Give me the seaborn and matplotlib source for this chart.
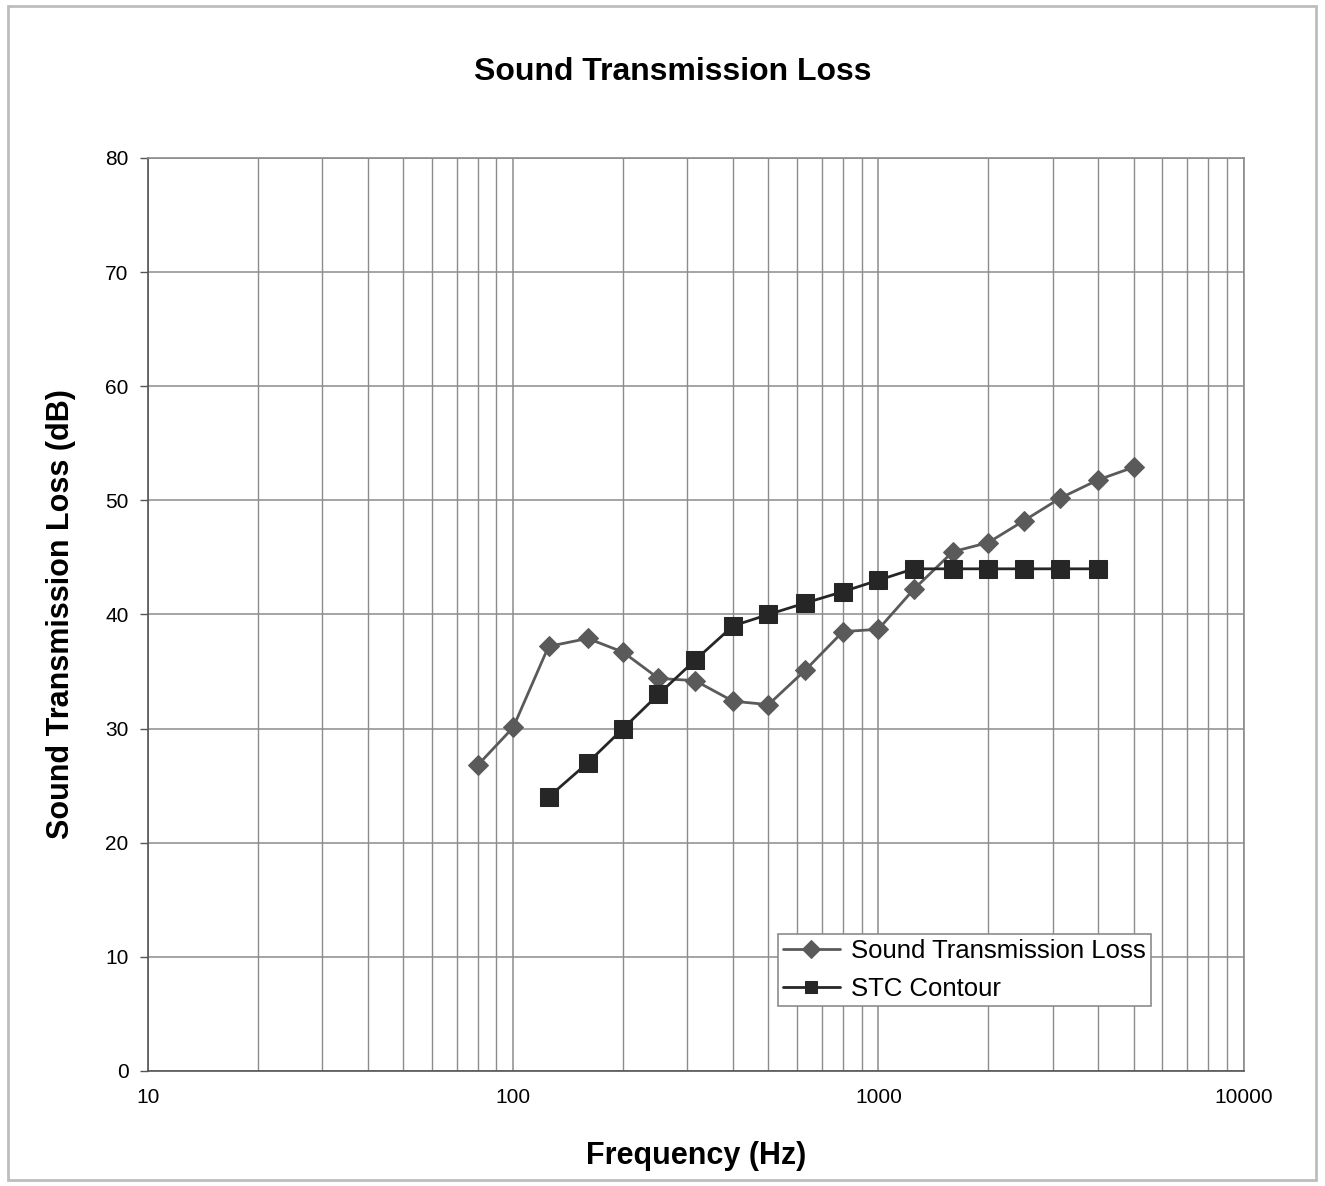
import numpy as np
import pandas as pd
import matplotlib
matplotlib.use("Agg")
import matplotlib.pyplot as plt
import seaborn as sns
from matplotlib.patches import Rectangle
from matplotlib.ticker import LogLocator, FixedLocator, NullFormatter

# Third-octave band frequencies and measured values
stl_freq = [80, 100, 125, 160, 200, 250, 315, 400, 500, 630, 800, 1000,
            1250, 1600, 2000, 2500, 3150, 4000, 5000]
stl_db = [26.8, 30.1, 37.2, 37.9, 36.7, 34.4, 34.2, 32.4, 32.1, 35.1, 38.5, 38.7,
          42.2, 45.5, 46.3, 48.2, 50.2, 51.8, 52.9]

stc_freq = [125, 160, 200, 250, 315, 400, 500, 630, 800, 1000, 1250, 1600,
            2000, 2500, 3150, 4000]
stc_db = [24, 27, 30, 33, 36, 39, 40, 41, 42, 43, 44, 44, 44, 44, 44, 44]

x_ticks = [10, 100, 1000, 10000]
y_ticks = [0, 10, 20, 30, 40, 50, 60, 70, 80]

sns.set_theme(style="white")
plt.rcParams["font.family"] = ["Liberation Sans", "DejaVu Sans"]
plt.rcParams["text.color"] = "black"
plt.rcParams["axes.labelcolor"] = "black"
plt.rcParams["xtick.color"] = "black"
plt.rcParams["ytick.color"] = "black"

fig = plt.figure(figsize=(13.25, 11.86), dpi=100)
ax = fig.add_axes([0.1117, 0.097, 0.8268, 0.7698])

stl = pd.DataFrame({"Frequency": stl_freq, "dB": stl_db})
stc = pd.DataFrame({"Frequency": stc_freq, "dB": stc_db})

sns.lineplot(data=stl, x="Frequency", y="dB", ax=ax, color="#5a5a5a",
             marker="D", markersize=10, markeredgecolor="#5a5a5a",
             linewidth=2, label="Sound Transmission Loss")
sns.lineplot(data=stc, x="Frequency", y="dB", ax=ax, color="#262626",
             marker="s", markersize=13, markeredgecolor="#262626",
             linewidth=2, label="STC Contour")

ax.set_xscale("log")
ax.set_xlim(10, 10000)
ax.set_ylim(0, 80)
ax.xaxis.set_major_locator(FixedLocator(x_ticks))
ax.xaxis.set_minor_locator(LogLocator(base=10, subs=np.arange(2, 10)))
ax.xaxis.set_minor_formatter(NullFormatter())
ax.set_xticks(x_ticks)
ax.set_xticklabels([str(t) for t in x_ticks])
ax.set_yticks(y_ticks)

ax.grid(True, which="major", axis="both", color="#8c8c8c", linewidth=1.1)
ax.grid(True, which="minor", axis="x", color="#8c8c8c", linewidth=1.0)

for s in ax.spines.values():
    s.set_color("#8c8c8c")
    s.set_linewidth(1.2)
ax.spines["left"].set_color("#555555")
ax.spines["bottom"].set_color("#555555")

ax.tick_params(axis="y", which="major", direction="out", length=6, width=1,
               color="#555555", pad=8, labelsize=15, left=True)
ax.tick_params(axis="x", which="major", direction="out", length=0, pad=12,
               labelsize=15, bottom=True)
ax.tick_params(axis="x", which="minor", length=0)

fig.text(673 / 1325, 1 - 72 / 1186, "Sound Transmission Loss", fontsize=23,
         fontweight="bold", ha="center", va="center")
ax.set_xlabel("Frequency (Hz)", fontsize=22, fontweight="bold", labelpad=25)
ax.set_ylabel("Sound Transmission Loss (dB)", fontsize=22, fontweight="bold",
              labelpad=21)

leg = ax.legend(loc="lower left", bbox_to_anchor=(0.575, 0.071), fontsize=18.5,
                frameon=True, fancybox=False, edgecolor="#8c8c8c",
                framealpha=1, borderpad=0.2, handlelength=2.2,
                handletextpad=0.45, labelspacing=0.55, borderaxespad=0)
leg.get_frame().set_linewidth(1.2)
for h in leg.legend_handles:
    h.set_markersize(9)

fig.patches.append(Rectangle((0.006, 0.005), 0.987, 0.99, transform=fig.transFigure,
                             fill=False, edgecolor="#bdbdbd", linewidth=2))

fig.savefig("out.png", dpi=100)
